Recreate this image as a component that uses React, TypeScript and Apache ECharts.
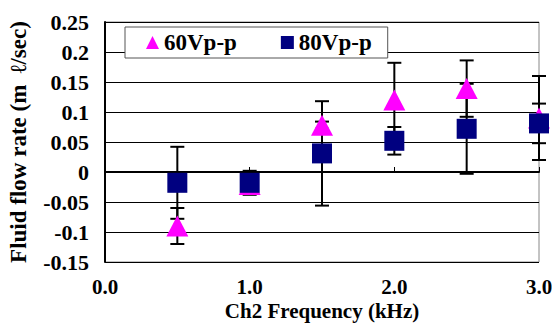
import React, { useEffect, useRef } from "react";
import * as echarts from "echarts";

const freq = [0.5, 1.0, 1.5, 2.0, 2.5, 3.0];
const v60 = [-0.09, -0.021, 0.078, 0.12, 0.139, 0.09];
const e60 = [0.03, 0.005, 0.006, 0.062, 0.047, 0.07];
const v80 = [-0.018, -0.018, 0.031, 0.052, 0.072, 0.081];
const e80 = [0.06, 0.02, 0.087, 0.023, 0.075, 0.033];
const xTicks = [0, 1, 2, 3];
const yTicks = [-0.15, -0.1, -0.05, 0, 0.05, 0.1, 0.15, 0.2, 0.25];

const FONT = "Liberation Serif";

function errSeries(name: string, vals: number[], errs: number[]) {
  return {
    name: name + "-err",
    type: "custom",
    silent: true,
    data: freq.map((f, i) => [f, vals[i] - errs[i], vals[i] + errs[i]]),
    renderItem: (_p: any, api: any) => {
      const x = api.value(0);
      const lo = api.coord([x, api.value(1)]);
      const hi = api.coord([x, api.value(2)]);
      const h = 7;
      const st = { stroke: "#000", lineWidth: 2 };
      return {
        type: "group",
        children: [
          { type: "line", shape: { x1: lo[0], y1: lo[1], x2: hi[0], y2: hi[1] }, style: st },
          { type: "line", shape: { x1: lo[0] - h, y1: lo[1], x2: lo[0] + h, y2: lo[1] }, style: st },
          { type: "line", shape: { x1: hi[0] - h, y1: hi[1], x2: hi[0] + h, y2: hi[1] }, style: st },
        ],
      };
    },
  };
}

export default function App() {
  const ref = useRef<HTMLDivElement>(null);
  useEffect(() => {
    const chart = echarts.init(ref.current!, null, { renderer: "svg" });
    const txt = { fontFamily: FONT, fontWeight: "bold" as const, fontSize: 22, color: "#000" };
    chart.setOption({
      animation: false,
      backgroundColor: "#fff",
      textStyle: { fontFamily: FONT },
      grid: {
        left: 105,
        right: 13,
        top: 22,
        bottom: 61,
        outerBoundsMode: "none",
        containLabel: false,
        show: true,
        borderColor: "#888",
        borderWidth: 1,
        backgroundColor: "transparent",
      },
      legend: {
        left: 125,
        top: 27,
        padding: [4, 16, 4, 21],
        itemGap: 44,
        itemWidth: 13,
        itemHeight: 13,
        backgroundColor: "#fff",
        borderColor: "#555",
        borderWidth: 1,
        borderRadius: 0,
        data: ["60Vp-p", "80Vp-p"],
        textStyle: { ...txt, fontSize: 23 },
      },
      xAxis: {
        type: "value",
        min: xTicks[0],
        max: xTicks[xTicks.length - 1],
        interval: 1,
        name: "Ch2 Frequency (kHz)",
        nameLocation: "middle",
        nameGap: 40,
        nameMoveOverlap: false,
        nameTextStyle: { ...txt, fontSize: 21, lineHeight: 18 },
        axisLine: { lineStyle: { color: "#000", width: 2 } },
        axisTick: { inside: true, length: 5, lineStyle: { color: "#000" } },
        axisLabel: {
          ...txt,
          fontSize: 21,
          margin: 16,
          lineHeight: 18,
          formatter: (v: number) => v.toFixed(1),
        },
        splitLine: { show: false },
      },
      yAxis: {
        type: "value",
        min: yTicks[0],
        max: yTicks[yTicks.length - 1],
        interval: 0.05,
        name: "Fluid flow rate (m  ℓ/sec)",
        nameLocation: "middle",
        nameGap: 75,
        nameMoveOverlap: false,
        nameTextStyle: { ...txt, fontSize: 23 },
        axisLine: { show: true, lineStyle: { color: "#000", width: 2 } },
        axisTick: { show: false },
        axisLabel: {
          ...txt,
          margin: 16,
          formatter: (v: number) => String(Math.round(v * 100) / 100),
        },
        splitLine: { show: true, lineStyle: { color: "#000", width: 1 } },
      },
      series: [
        errSeries("60Vp-p", v60, e60),
        {
          name: "60Vp-p",
          type: "scatter",
          symbol: "triangle",
          symbolSize: [22, 21],
          clip: false,
          itemStyle: { color: "#FF00FF", opacity: 1 },
          data: freq.map((f, i) => [f, v60[i]]),
        },
        errSeries("80Vp-p", v80, e80),
        {
          name: "80Vp-p",
          type: "scatter",
          symbol: "rect",
          symbolSize: 20,
          clip: false,
          itemStyle: { color: "#000080", opacity: 1 },
          data: freq.map((f, i) => [f, v80[i]]),
        },
      ],
    });
    return () => chart.dispose();
  }, []);
  return (
    <div
      ref={ref}
      style={{ position: "fixed", left: 0, top: 0, width: 552, height: 323 }}
    />
  );
}
